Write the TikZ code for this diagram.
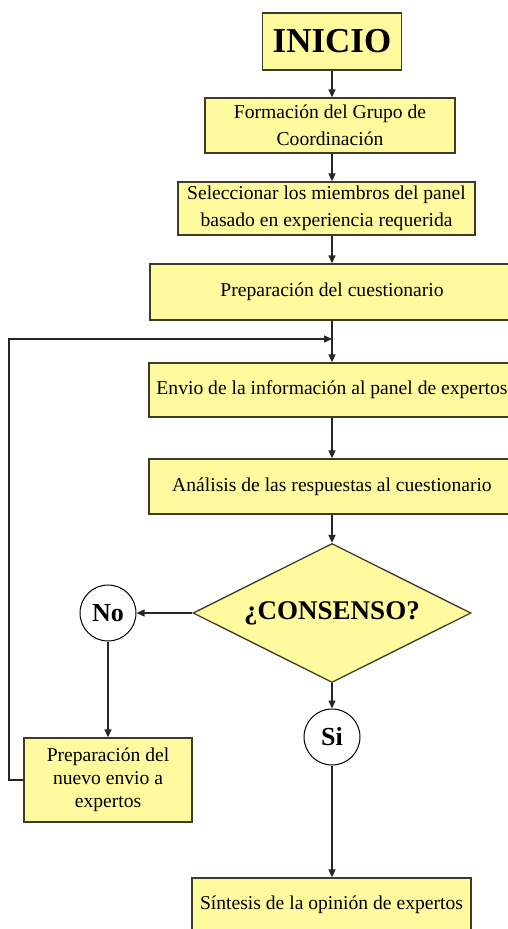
\documentclass[tikz,border=0pt]{standalone}
\usepackage{fontspec}
\setmainfont{Liberation Serif}
\usetikzlibrary{shapes.geometric,arrows.meta}
\definecolor{boxfill}{RGB}{255,250,158}
\definecolor{boxline}{RGB}{60,60,40}
\tikzset{
  stepbox/.style={draw=boxline, fill=boxfill, line width=1.3pt, inner sep=0pt, align=center,
    font=\fontsize{19.6}{27}\selectfont},
  decision/.style={diamond, aspect=2, draw=boxline, fill=boxfill, line width=1.3pt, inner sep=0pt,
    font=\fontsize{27}{30}\selectfont\bfseries},
  answer/.style={circle, draw=black, fill=white, line width=1pt, minimum size=56pt, inner sep=0pt,
    font=\fontsize{26}{28}\selectfont\bfseries},
  conn/.style={line width=1.4pt, draw=black!85, -{Triangle[length=8pt,width=7pt]}},
  plain/.style={line width=1.4pt, draw=black!85},
}
\begin{document}
\begin{tikzpicture}[x=1pt,y=-1pt]
\fill[white] (0,0) rectangle (508,929);
\useasboundingbox (0,0) rectangle (508,929);
\clip (0,0) rectangle (508,929);

\node[stepbox, minimum width=139pt, minimum height=57pt, font=\fontsize{35}{38}\selectfont\bfseries] (inicio) at (332,41.5) {INICIO};
\node[stepbox, minimum width=250pt, minimum height=55pt] (form) at (330,125.5) {Formación del Grupo de\\Coordinación};
\node[stepbox, minimum width=297pt, minimum height=53pt] (sel) at (326.5,208.5) {Seleccionar los miembros del panel\\basado en experiencia requerida};
\node[stepbox, minimum width=364pt, minimum height=56pt] (prep) at (332,292) {Preparación del cuestionario};
\node[stepbox, minimum width=366pt, minimum height=54pt] (envio) at (332,390) {Envio de la información al panel de expertos};
\node[stepbox, minimum width=366pt, minimum height=55pt] (anal) at (332,486.5) {Análisis de las respuestas al cuestionario};
\node[decision, minimum width=278pt, minimum height=139pt] (cons) at (332,613) {¿CONSENSO?};
\node[answer] (no) at (108,613) {No};
\node[answer] (si) at (332,737) {Si};
\node[stepbox, minimum width=168pt, minimum height=84pt, font=\fontsize{19.6}{23}\selectfont] (nuevo) at (108,780) {Preparación del\\nuevo envio a\\expertos};
\node[stepbox, minimum width=279pt, minimum height=54pt] (sint) at (331.5,905) {Síntesis de la opinión de expertos};

\coordinate (join) at (332,339);
\coordinate (lb) at (9,780);
\coordinate (lt) at (9,339);

\draw[conn] (inicio.south) -- (inicio.south |- form.north);
\draw[conn] (inicio.south |- form.south) -- (inicio.south |- sel.north);
\draw[conn] (inicio.south |- sel.south) -- (prep.north);
\draw[plain] (prep.south) -- (join);
\draw[conn] (join) -- (envio.north);
\draw[conn] (envio) -- (anal);
\draw[conn] (anal) -- (cons);
\draw[conn] (cons.west) -- (no.east);
\draw[conn] (no) -- (nuevo);
\draw[conn] (cons.south) -- (si.north);
\draw[conn] (si) -- (si |- sint.north);
\draw[conn] (nuevo.west) -- (lb) -- (lt) -- (join);
\end{tikzpicture}
\end{document}
